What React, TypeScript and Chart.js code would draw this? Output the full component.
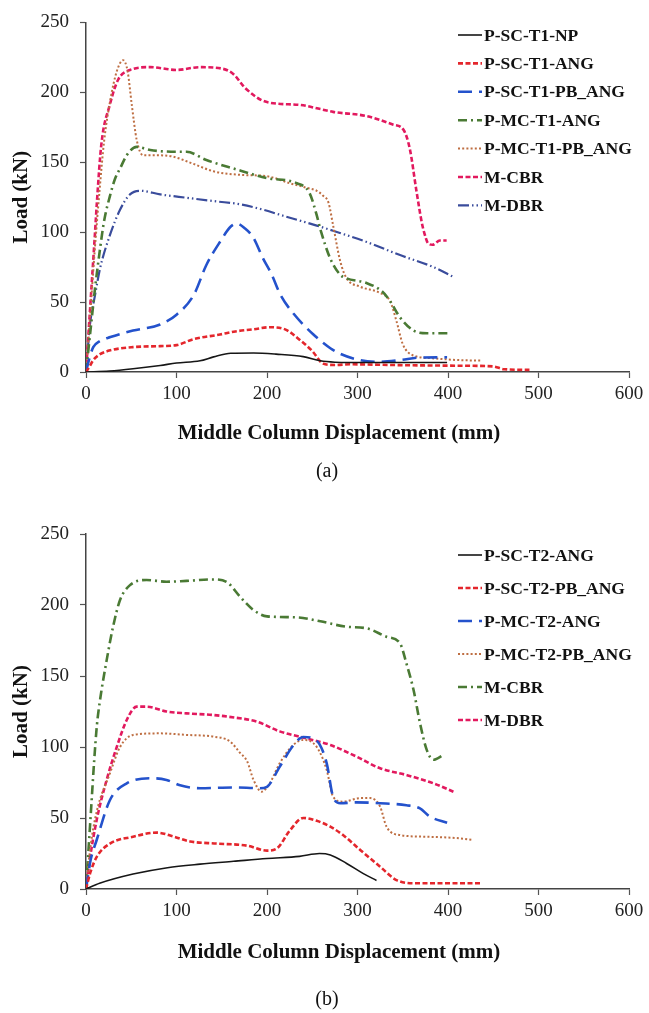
import React, { useEffect, useRef } from "react";
import { Chart, registerables } from "chart.js";

Chart.register(...registerables);

type Pt = [number, number];

// ---------- axis ticks ----------
const X_MIN = 0;
const X_MAX = 600;
const X_STEP = 100;
const Y_MIN = 0;
const Y_MAX = 250;
const Y_STEP = 50;

const X_TITLE = "Middle Column Displacement (mm)";
const Y_TITLE = "Load (kN)";

// ---------- panel (a) ----------
const A_LABELS = [
  "P-SC-T1-NP",
  "P-SC-T1-ANG",
  "P-SC-T1-PB_ANG",
  "P-MC-T1-ANG",
  "P-MC-T1-PB_ANG",
  "M-CBR",
  "M-DBR",
];

const A_SC_T1_NP: Pt[] = [
  [0, 0], [26, 0.7], [52, 2.3], [82, 4.7], [100, 6.4], [126, 8], [141, 10.8],
  [160, 13.4], [185, 13.6], [210, 12.8], [240, 11], [259, 8], [275, 7],
  [292, 6.8], [347, 6.8], [399, 6.8],
];

const A_SC_T1_ANG: Pt[] = [
  [0, 0], [4, 4], [8, 8.5], [15, 12.5], [27, 15.5], [52, 17.8], [82, 18.5],
  [100, 19.2], [119, 23.5], [148, 26.8], [165, 29], [185, 30.5], [203, 32],
  [220, 30.5], [237, 22.5], [250, 15], [262, 6], [275, 5], [292, 5.5],
  [347, 4.9], [413, 4.5], [450, 4], [462, 2], [490, 1.5],
];

const A_SC_T1_PB_ANG: Pt[] = [
  [0, 0], [3, 8], [8, 17.8], [15, 22], [27, 25], [52, 29.6], [82, 34],
  [100, 41], [119, 55], [133, 76.5], [148, 93], [160, 104], [167, 106],
  [175, 103], [185, 96], [195, 82], [205, 70], [215, 55], [229, 42],
  [251, 27], [270, 17], [281, 13], [303, 8.5], [325, 7.3], [347, 8.5],
  [369, 10.3], [399, 10.5],
];

const A_MC_T1_ANG: Pt[] = [
  [0, 0], [5, 30], [10, 60], [15.5, 88], [20, 108], [26.5, 126], [32, 138],
  [38, 146], [45, 155], [56, 161], [71, 158.7], [100, 157.5], [111, 157.5],
  [133, 151.6], [163, 145.5], [200, 138.7], [233, 135], [247, 128],
  [255, 112], [259, 102], [270, 81], [281, 69.5], [288, 67], [310, 63.6],
  [327, 57.7], [336, 50.7], [347, 39], [362, 29.6], [377, 27.7], [400, 27.7],
];

const A_MC_T1_PB_ANG: Pt[] = [
  [0, 0], [5, 45], [10, 90], [15, 130], [20, 165], [27, 195], [34, 215],
  [41, 223], [46, 215], [50.5, 191.5], [56, 166], [63, 155], [78, 155],
  [96, 154], [118, 149], [141, 143.5], [170, 141], [200, 140], [225, 135],
  [244, 131.7], [255, 129.6], [262, 126], [268, 121], [273, 105], [281, 79],
  [288, 67], [303, 61], [325, 56.5], [336, 50.7], [343, 36.6], [350, 20],
  [361, 12], [383, 9.8], [413, 8.5], [437, 8.2],
];

const A_M_CBR: Pt[] = [
  [0, 0], [2, 20], [4, 40], [7, 70], [10, 100], [12, 121], [17, 163],
  [26.5, 191.5], [35.5, 209], [48.6, 216], [71, 218], [100, 216], [126, 218],
  [150, 217], [163, 213], [176, 203], [200, 193], [236, 191], [259, 188],
  [273, 186], [310, 183], [339, 177], [351, 173], [358, 159], [365, 130],
  [371, 107], [374, 99], [378, 92], [383, 91], [391, 94], [398.5, 94],
];

const A_M_DBR: Pt[] = [
  [0, 0], [4.4, 34], [10, 55], [15.5, 74], [26.5, 98], [37.6, 116],
  [48.6, 127], [60, 129.6], [82, 127], [111, 124.6], [144, 122], [170, 120],
  [196, 116], [218, 111.7], [255, 104.7], [273, 101], [310, 93], [347, 83.6],
  [384, 75], [406, 68],
];

// ---------- panel (b) ----------
const B_LABELS = [
  "P-SC-T2-ANG",
  "P-SC-T2-PB_ANG",
  "P-MC-T2-ANG",
  "P-MC-T2-PB_ANG",
  "M-CBR",
  "M-DBR",
];

const B_SC_T2_ANG: Pt[] = [
  [0, 0], [15, 4], [52, 10.5], [90, 15], [126, 17.5], [163, 19.5], [200, 21.5],
  [236, 23], [258, 25], [270, 24], [288, 18], [306, 11], [321, 6],
];

const B_SC_T2_PB_ANG: Pt[] = [
  [0, 0], [5, 12], [12, 22.8], [26.5, 32], [52, 36.8], [78, 39.7], [96.5, 37],
  [115, 33.5], [144, 32], [178, 30.5], [200, 27], [211, 28.6], [225, 41],
  [240, 50], [255, 48], [270, 43.9], [284, 38], [303, 27.5], [325, 15.7],
  [343, 6.3], [365, 4], [399, 4], [438, 4],
];

const B_MC_T2_ANG: Pt[] = [
  [0, 0], [5, 20], [11.8, 34.5], [26.5, 62.7], [45, 74.4], [74, 78], [89, 76.8],
  [104, 73], [126, 71], [163, 71.5], [192, 71], [200, 72], [214, 86],
  [229, 101], [240, 107], [251, 106], [258, 102], [266, 88.5], [273, 65],
  [281, 60.4], [299, 61], [325, 60.4], [354, 59], [369, 56.8], [380, 51],
  [399, 46.7],
];

const B_MC_T2_PB_ANG: Pt[] = [
  [0, 0], [5, 30], [12, 55], [26.5, 81.5], [37.6, 100], [52, 108.5],
  [82, 109.6], [111, 108.5], [141, 107.3], [159, 104], [170, 96], [178, 90],
  [185, 77], [194, 68.5], [203, 74.4], [214, 88.5], [229, 101.4], [240, 105],
  [255, 100], [266, 83.8], [273, 65], [284, 61.5], [303, 64], [314, 64],
  [325, 58], [332, 44], [347, 38], [377, 36.8], [413, 35.7], [428, 34.5],
];

const B_M_CBR: Pt[] = [
  [0, 0], [3, 30], [6, 60], [9, 90], [12, 115], [15.5, 133], [22.8, 161],
  [30, 185], [37.6, 203.5], [48.6, 214], [67, 217.6], [89, 216.4], [111, 217],
  [141, 218], [156, 216], [170, 206], [185, 196.5], [200, 192], [233, 191.3],
  [259, 188.5], [288, 184.7], [310, 183.6], [332, 177.7], [347, 173],
  [354, 159], [362, 140], [369, 117], [376.5, 98], [384, 91], [395, 94.4],
];

const B_M_DBR: Pt[] = [
  [0, 0], [4, 20], [11.8, 48.6], [22.8, 76.8], [34, 100], [45, 119],
  [56, 128.4], [67, 128.4], [89, 125], [111, 123.7], [141, 122.5],
  [156, 121.4], [189, 117.8], [214, 111], [244, 106], [270, 101.4],
  [299, 93.2], [325, 85], [354, 80.3], [384, 74.4], [406, 68.5],
];

// ---------- styles ----------
const SERIF = '"Liberation Serif", "Times New Roman", serif';

type Style = { color: string; width: number; dash: number[] };
const ST_BLACK: Style = { color: "#161616", width: 1.6, dash: [] };
const ST_RED: Style = { color: "#E4262C", width: 2.6, dash: [5, 2.5] };
const ST_BLUE: Style = { color: "#2452CC", width: 2.6, dash: [14, 7] };
const ST_GREEN: Style = { color: "#4A7A34", width: 2.6, dash: [9, 4, 2, 4] };
const ST_BROWN: Style = { color: "#BE6E42", width: 2, dash: [2, 2.2] };
const ST_PINK: Style = { color: "#E2195E", width: 2.6, dash: [5, 2.5] };
const ST_NAVY: Style = { color: "#3A4C9C", width: 2.2, dash: [11, 3, 1.5, 3, 1.5, 3] };

const A_DATA = [A_SC_T1_NP, A_SC_T1_ANG, A_SC_T1_PB_ANG, A_MC_T1_ANG, A_MC_T1_PB_ANG, A_M_CBR, A_M_DBR];
const A_STYLES = [ST_BLACK, ST_RED, ST_BLUE, ST_GREEN, ST_BROWN, ST_PINK, ST_NAVY];

const B_DATA = [B_SC_T2_ANG, B_SC_T2_PB_ANG, B_MC_T2_ANG, B_MC_T2_PB_ANG, B_M_CBR, B_M_DBR];
const B_STYLES = [ST_BLACK, ST_RED, ST_BLUE, ST_BROWN, ST_GREEN, ST_PINK];

const inlineLegend = {
  id: "inlineLegend",
  afterDatasetsDraw(chart: any, _args: any, opts: any) {
    const ctx = chart.ctx;
    ctx.save();
    chart.data.datasets.forEach((ds: any, i: number) => {
      const y = opts.top + i * opts.step;
      ctx.beginPath();
      ctx.setLineDash(ds.borderDash || []);
      ctx.strokeStyle = ds.borderColor;
      ctx.lineWidth = ds.borderWidth;
      ctx.lineCap = "butt";
      ctx.moveTo(opts.x0, y);
      ctx.lineTo(opts.x1, y);
      ctx.stroke();
      ctx.setLineDash([]);
      ctx.fillStyle = "#111";
      ctx.font = `bold ${opts.size}px ${SERIF}`;
      ctx.textBaseline = "middle";
      ctx.textAlign = "left";
      ctx.fillText(ds.label, opts.tx, y + 1);
    });
    ctx.restore();
  },
};

type PanelProps = {
  top: number;
  height: number;
  areaTop: number;
  areaBottom: number;
  labels: string[];
  data: Pt[][];
  styles: Style[];
  legendTop: number;
  legendStep: number;
};

function Panel(p: PanelProps) {
  const ref = useRef<HTMLCanvasElement>(null);
  useEffect(() => {
    if (!ref.current) return;
    const chart = new Chart(ref.current, {
      type: "line",
      data: {
        datasets: p.labels.map((label, i) => ({
          label,
          data: p.data[i].map(([x, y]) => ({ x, y })),
          borderColor: p.styles[i].color,
          borderWidth: p.styles[i].width,
          borderDash: p.styles[i].dash,
          borderCapStyle: "butt",
          pointRadius: 0,
          fill: false,
          cubicInterpolationMode: "monotone",
        })),
      },
      options: {
        responsive: false,
        animation: false,
        events: [],
        layout: { padding: { left: 0, right: 20, top: p.areaTop, bottom: 0 } },
        plugins: {
          legend: { display: false },
          tooltip: { enabled: false },
          inlineLegend: {
            top: p.legendTop,
            step: p.legendStep,
            x0: 458,
            x1: 482,
            tx: 484,
            size: 17.5,
          },
        } as any,
        scales: {
          x: {
            type: "linear",
            min: X_MIN,
            max: X_MAX,
            ticks: {
              stepSize: X_STEP,
              font: { family: SERIF, size: 19 },
              color: "#222",
              padding: 5,
              maxRotation: 0,
            },
            grid: {
              drawOnChartArea: false,
              drawTicks: true,
              tickLength: 6,
              tickWidth: 1.2,
              tickColor: "#555",
            },
            border: { display: true, color: "#444", width: 1.5 },
            afterFit: (s: any) => {
              s.height = p.height - p.areaBottom;
            },
          },
          y: {
            type: "linear",
            min: Y_MIN,
            max: Y_MAX,
            ticks: {
              stepSize: Y_STEP,
              font: { family: SERIF, size: 19 },
              color: "#222",
              padding: 11,
            },
            grid: {
              drawOnChartArea: false,
              drawTicks: true,
              tickLength: 6,
              tickWidth: 1.2,
              tickColor: "#555",
            },
            border: { display: true, color: "#444", width: 1.5 },
            title: {
              display: true,
              text: Y_TITLE,
              font: { family: SERIF, size: 21, weight: "bold" },
              color: "#111",
              padding: { top: 9, bottom: 0 },
            },
            afterFit: (s: any) => {
              s.width = 86;
            },
          },
        },
      },
      plugins: [inlineLegend as any],
    });
    return () => chart.destroy();
  }, []);
  return (
    <canvas
      ref={ref}
      width={649}
      height={p.height}
      style={{ position: "absolute", left: 0, top: p.top, width: 649, height: p.height }}
    />
  );
}

const textStyle = (cx: number, cy: number, size: number, bold: boolean): React.CSSProperties => ({
  position: "absolute",
  left: cx - 250,
  top: cy - 14,
  width: 500,
  height: 28,
  lineHeight: "28px",
  textAlign: "center",
  fontFamily: SERIF,
  fontSize: size,
  fontWeight: bold ? "bold" : "normal",
  color: "#111",
  whiteSpace: "nowrap",
});

export default function App() {
  return (
    <div style={{ position: "absolute", left: 0, top: 0, width: 649, height: 1013, background: "#fff", overflow: "hidden" }}>
      <Panel
        top={0}
        height={480}
        areaTop={18}
        areaBottom={372}
        labels={A_LABELS}
        data={A_DATA}
        styles={A_STYLES}
        legendTop={35}
        legendStep={28.4}
      />
      <div style={textStyle(339, 432, 21, true)}>{X_TITLE}</div>
      <div style={textStyle(327, 470, 20, false)}>(a)</div>
      <Panel
        top={500}
        height={513}
        areaTop={34}
        areaBottom={389}
        labels={B_LABELS}
        data={B_DATA}
        styles={B_STYLES}
        legendTop={55}
        legendStep={33}
      />
      <div style={textStyle(339, 951, 21, true)}>{X_TITLE}</div>
      <div style={textStyle(327, 998, 20, false)}>(b)</div>
    </div>
  );
}
